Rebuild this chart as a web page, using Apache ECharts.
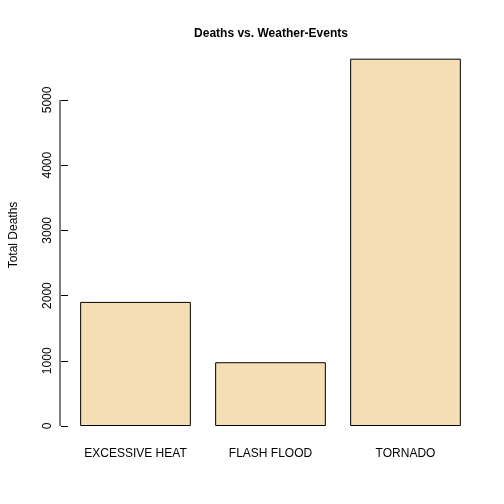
<!DOCTYPE html>
<html>
<head>
<meta charset="utf-8">
<script src="https://cdn.jsdelivr.net/npm/echarts@6/dist/echarts.min.js"></script>
<style>html,body{margin:0;background:#fff}#c{width:504px;height:504px}</style>
</head>
<body>
<div id="c"></div>
<script>
const categories = ['EXCESSIVE HEAT', 'FLASH FLOOD', 'TORNADO'];
const deaths = [1903, 978, 5633];
const yTicks = [0, 1000, 2000, 3000, 4000, 5000];

const chart = echarts.init(document.getElementById('c'));
const font = 'Liberation Sans, Arial, sans-serif';
chart.setOption({
    animation: false,
    title: {
        text: 'Deaths vs. Weather-Events', left: 266, top: 23, textAlign: 'center',
        textStyle: { fontFamily: font, fontSize: 12, fontWeight: 'bold', color: '#000' }
    },
    grid: { left: 60, right: 31, top: 44, bottom: 78 },
    xAxis: {
        type: 'category', data: categories,
        axisLine: { show: false }, axisTick: { show: false },
        axisLabel: { color: '#000', fontFamily: font, fontSize: 12, margin: 22 }
    },
    yAxis: {
        type: 'value', min: 0, max: 5858,
        name: 'Total Deaths', nameLocation: 'middle', nameGap: 48, nameRotate: 90,
        nameTextStyle: { color: '#000', fontFamily: font, fontSize: 12 },
        axisLine: { show: false },
        axisTick: { show: true, length: 7, lineStyle: { color: '#000' }, customValues: yTicks },
        axisLabel: { color: '#000', fontFamily: font, fontSize: 12, rotate: 90, margin: 14,
            customValues: yTicks, formatter: v => String(v) },
        splitLine: { show: false }
    },
    series: [{
        type: 'bar', data: deaths, barCategoryGap: '18%',
        itemStyle: { color: '#F5DEB3', borderColor: '#000', borderWidth: 1 }
    }]
});

// y axis line from first to last tick, as in R
const p0 = chart.convertToPixel({ yAxisIndex: 0 }, yTicks[0]);
const p1 = chart.convertToPixel({ yAxisIndex: 0 }, yTicks[yTicks.length - 1]);
chart.setOption({
    graphic: [{
        type: 'line', shape: { x1: 60, y1: p0, x2: 60, y2: p1 },
        style: { stroke: '#000', lineWidth: 1 }
    }]
});
</script>
</body>
</html>
